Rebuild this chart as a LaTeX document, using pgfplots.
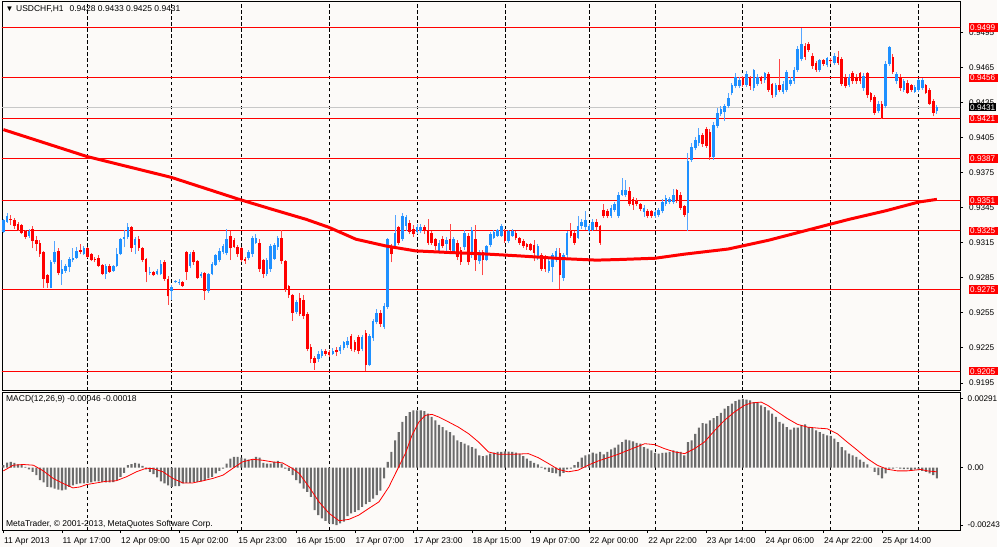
\documentclass[border=0pt]{standalone}
\usepackage{fontspec}
\setmainfont{Liberation Sans}
\usepackage{pgfplots}
\usepackage{pgfplotstable}
\pgfplotsset{compat=1.18}
\definecolor{bgc}{RGB}{252,250,248}
\definecolor{upc}{RGB}{30,144,255}
\definecolor{upw}{RGB}{85,165,255}
\definecolor{dnc}{RGB}{255,0,0}
\definecolor{dnw}{RGB}{255,70,70}
\definecolor{histc}{RGB}{108,108,108}
\definecolor{bidc}{RGB}{200,200,200}
\newcommand{\mtf}{\fontsize{8.5}{10}\selectfont}
\newcommand{\pxf}{\fontsize{8.2}{10}\selectfont}
\setlength{\fboxsep}{1pt}
\newcommand{\rl}[1]{\colorbox{red}{\textcolor{white}{\rule[-0.3pt]{0pt}{6.5pt}#1}\hspace{1.5pt}}}
\newcommand{\bl}[1]{\colorbox{black}{\textcolor{white}{\rule[-0.3pt]{0pt}{6.5pt}#1}}}

\pgfplotstableread{
i o h l c
0 0.9324 0.9335 0.9323 0.9334
1 0.9333 0.9340 0.9332 0.9338
2 0.9335 0.9339 0.9330 0.9334
3 0.9334 0.9336 0.9327 0.9329
4 0.9331 0.9333 0.9325 0.9326
5 0.9330 0.9331 0.9322 0.9323
6 0.9325 0.9326 0.9318 0.9320
7 0.9321 0.9327 0.9319 0.9325
8 0.9327 0.9329 0.9310 0.9316
9 0.9317 0.9321 0.9308 0.9314
10 0.9315 0.9317 0.9303 0.9305
11 0.9307 0.9308 0.9276 0.9284
12 0.9287 0.9288 0.9276 0.9280
13 0.9276 0.9300 0.9276 0.9298
14 0.9298 0.9316 0.9297 0.9307
15 0.9308 0.9310 0.9287 0.9289
16 0.9288 0.9300 0.9279 0.9292
17 0.9291 0.9297 0.9289 0.9295
18 0.9294 0.9303 0.9290 0.9301
19 0.9300 0.9310 0.9298 0.9302
20 0.9302 0.9311 0.9301 0.9308
21 0.9309 0.9314 0.9305 0.9307
22 0.9305 0.9312 0.9304 0.9310
23 0.9310 0.9311 0.9302 0.9303
24 0.9305 0.9306 0.9299 0.9300
25 0.9301 0.9303 0.9298 0.9300
26 0.9302 0.9304 0.9294 0.9295
27 0.9296 0.9297 0.9287 0.9288
28 0.9288 0.9297 0.9284 0.9295
29 0.9295 0.9297 0.9289 0.9290
30 0.9291 0.9296 0.9290 0.9295
31 0.9295 0.9310 0.9294 0.9305
32 0.9305 0.9319 0.9304 0.9318
33 0.9318 0.9326 0.9311 0.9320
34 0.9320 0.9332 0.9318 0.9328
35 0.9328 0.9329 0.9307 0.9310
36 0.9313 0.9320 0.9305 0.9318
37 0.9318 0.9321 0.9308 0.9310
38 0.9310 0.9311 0.9298 0.9300
39 0.9301 0.9302 0.9281 0.9290
40 0.9289 0.9294 0.9287 0.9290
41 0.9290 0.9291 0.9286 0.9287
42 0.9288 0.9292 0.9287 0.9291
43 0.9288 0.9300 0.9287 0.9297
44 0.9298 0.9300 0.9282 0.9284
45 0.9284 0.9286 0.9262 0.9269
46 0.9274 0.9279 0.9266 0.9277
47 0.9281 0.9283 0.9280 0.9282
48 0.9280 0.9284 0.9279 0.9281
49 0.9281 0.9282 0.9277 0.9278
50 0.9307 0.9308 0.9283 0.9290
51 0.9295 0.9307 0.9293 0.9305
52 0.9307 0.9309 0.9296 0.9298
53 0.9299 0.9300 0.9284 0.9285
54 0.9286 0.9290 0.9285 0.9288
55 0.9289 0.9290 0.9266 0.9274
56 0.9274 0.9289 0.9272 0.9288
57 0.9288 0.9298 0.9287 0.9297
58 0.9296 0.9305 0.9295 0.9304
59 0.9300 0.9310 0.9298 0.9308
60 0.9307 0.9314 0.9305 0.9312
61 0.9306 0.9327 0.9304 0.9318
62 0.9321 0.9325 0.9300 0.9310
63 0.9317 0.9319 0.9310 0.9311
64 0.9311 0.9313 0.9303 0.9305
65 0.9310 0.9311 0.9298 0.9300
66 0.9301 0.9303 0.9297 0.9299
67 0.9302 0.9309 0.9300 0.9307
68 0.9305 0.9321 0.9303 0.9319
69 0.9315 0.9322 0.9314 0.9319
70 0.9315 0.9318 0.9290 0.9292
71 0.9300 0.9301 0.9285 0.9288
72 0.9288 0.9302 0.9286 0.9300
73 0.9292 0.9314 0.9290 0.9312
74 0.9301 0.9315 0.9300 0.9313
75 0.9311 0.9321 0.9309 0.9319
76 0.9319 0.9326 0.9297 0.9299
77 0.9299 0.9300 0.9273 0.9275
78 0.9278 0.9279 0.9268 0.9270
79 0.9270 0.9271 0.9248 0.9255
80 0.9256 0.9266 0.9254 0.9264
81 0.9268 0.9272 0.9252 0.9254
82 0.9266 0.9270 0.9250 0.9252
83 0.9254 0.9256 0.9222 0.9224
84 0.9226 0.9228 0.9212 0.9215
85 0.9216 0.9218 0.9206 0.9212
86 0.9215 0.9222 0.9213 0.9220
87 0.9218 0.9224 0.9216 0.9222
88 0.9222 0.9224 0.9218 0.9220
89 0.9221 0.9223 0.9217 0.9219
90 0.9220 0.9225 0.9219 0.9222
91 0.9223 0.9226 0.9218 0.9221
92 0.9222 0.9227 0.9220 0.9226
93 0.9225 0.9231 0.9223 0.9230
94 0.9227 0.9234 0.9225 0.9231
95 0.9235 0.9237 0.9222 0.9224
96 0.9230 0.9232 0.9221 0.9223
97 0.9234 0.9236 0.9220 0.9222
98 0.9224 0.9236 0.9222 0.9234
99 0.9238 0.9240 0.9205 0.9210
100 0.9210 0.9237 0.9209 0.9235
101 0.9233 0.9250 0.9231 0.9248
102 0.9247 0.9258 0.9245 0.9255
103 0.9255 0.9257 0.9243 0.9245
104 0.9243 0.9263 0.9241 0.9261
105 0.9260 0.9319 0.9258 0.9318
106 0.9312 0.9314 0.9298 0.9305
107 0.9312 0.9339 0.9310 0.9323
108 0.9328 0.9329 0.9313 0.9315
109 0.9318 0.9340 0.9316 0.9338
110 0.9329 0.9339 0.9325 0.9337
111 0.9332 0.9334 0.9322 0.9324
112 0.9327 0.9330 0.9320 0.9322
113 0.9324 0.9331 0.9322 0.9328
114 0.9325 0.9331 0.9323 0.9328
115 0.9328 0.9330 0.9322 0.9325
116 0.9326 0.9335 0.9313 0.9315
117 0.9323 0.9325 0.9313 0.9315
118 0.9318 0.9319 0.9309 0.9312
119 0.9308 0.9317 0.9306 0.9315
120 0.9318 0.9321 0.9310 0.9312
121 0.9314 0.9320 0.9306 0.9317
122 0.9318 0.9331 0.9306 0.9309
123 0.9306 0.9320 0.9305 0.9318
124 0.9315 0.9317 0.9300 0.9303
125 0.9309 0.9311 0.9296 0.9298
126 0.9311 0.9326 0.9309 0.9323
127 0.9321 0.9323 0.9296 0.9298
128 0.9304 0.9328 0.9302 0.9326
129 0.9318 0.9330 0.9291 0.9300
130 0.9299 0.9309 0.9297 0.9307
131 0.9307 0.9309 0.9287 0.9300
132 0.9300 0.9313 0.9299 0.9312
133 0.9313 0.9324 0.9311 0.9322
134 0.9319 0.9326 0.9318 0.9324
135 0.9321 0.9327 0.9320 0.9326
136 0.9321 0.9331 0.9320 0.9329
137 0.9325 0.9327 0.9315 0.9316
138 0.9316 0.9326 0.9315 0.9325
139 0.9321 0.9327 0.9320 0.9325
140 0.9323 0.9325 0.9317 0.9319
141 0.9319 0.9320 0.9313 0.9315
142 0.9316 0.9318 0.9310 0.9312
143 0.9314 0.9315 0.9309 0.9311
144 0.9314 0.9315 0.9308 0.9309
145 0.9313 0.9317 0.9299 0.9306
146 0.9302 0.9314 0.9300 0.9312
147 0.9304 0.9306 0.9291 0.9292
148 0.9302 0.9304 0.9290 0.9292
149 0.9291 0.9301 0.9289 0.9299
150 0.9294 0.9306 0.9281 0.9304
151 0.9300 0.9310 0.9298 0.9308
152 0.9306 0.9310 0.9275 0.9287
153 0.9285 0.9306 0.9282 0.9304
154 0.9304 0.9325 0.9302 0.9323
155 0.9325 0.9332 0.9319 0.9321
156 0.9323 0.9325 0.9313 0.9315
157 0.9319 0.9338 0.9318 0.9329
158 0.9329 0.9335 0.9327 0.9333
159 0.9328 0.9342 0.9326 0.9334
160 0.9325 0.9331 0.9323 0.9329
161 0.9326 0.9335 0.9325 0.9333
162 0.9333 0.9335 0.9326 0.9328
163 0.9329 0.9330 0.9313 0.9315
164 0.9343 0.9348 0.9336 0.9338
165 0.9342 0.9344 0.9336 0.9338
166 0.9338 0.9347 0.9336 0.9345
167 0.9343 0.9350 0.9341 0.9348
168 0.9338 0.9358 0.9336 0.9356
169 0.9356 0.9370 0.9355 0.9360
170 0.9356 0.9369 0.9354 0.9360
171 0.9359 0.9363 0.9346 0.9348
172 0.9352 0.9354 0.9343 0.9347
173 0.9351 0.9353 0.9346 0.9348
174 0.9348 0.9349 0.9342 0.9344
175 0.9341 0.9347 0.9337 0.9345
176 0.9342 0.9344 0.9336 0.9338
177 0.9342 0.9343 0.9336 0.9338
178 0.9338 0.9343 0.9336 0.9341
179 0.9339 0.9345 0.9337 0.9343
180 0.9342 0.9352 0.9340 0.9350
181 0.9348 0.9356 0.9346 0.9353
182 0.9350 0.9354 0.9348 0.9352
183 0.9350 0.9361 0.9348 0.9356
184 0.9360 0.9361 0.9349 0.9351
185 0.9356 0.9358 0.9343 0.9345
186 0.9346 0.9347 0.9337 0.9339
187 0.9340 0.9392 0.9325 0.9385
188 0.9386 0.9400 0.9384 0.9397
189 0.9396 0.9405 0.9394 0.9403
190 0.9400 0.9413 0.9398 0.9407
191 0.9407 0.9409 0.9397 0.9399
192 0.9412 0.9414 0.9396 0.9398
193 0.9410 0.9412 0.9386 0.9388
194 0.9388 0.9418 0.9386 0.9416
195 0.9415 0.9430 0.9413 0.9426
196 0.9425 0.9432 0.9423 0.9429
197 0.9427 0.9434 0.9419 0.9432
198 0.9432 0.9443 0.9430 0.9439
199 0.9443 0.9452 0.9441 0.9450
200 0.9449 0.9460 0.9447 0.9457
201 0.9449 0.9457 0.9447 0.9454
202 0.9456 0.9458 0.9448 0.9450
203 0.9450 0.9462 0.9448 0.9459
204 0.9456 0.9458 0.9446 0.9449
205 0.9447 0.9464 0.9445 0.9463
206 0.9451 0.9459 0.9449 0.9457
207 0.9457 0.9458 0.9451 0.9453
208 0.9454 0.9461 0.9452 0.9460
209 0.9459 0.9461 0.9444 0.9446
210 0.9451 0.9452 0.9439 0.9441
211 0.9441 0.9452 0.9440 0.9450
212 0.9450 0.9472 0.9444 0.9446
213 0.9444 0.9453 0.9442 0.9451
214 0.9446 0.9463 0.9444 0.9461
215 0.9451 0.9457 0.9449 0.9454
216 0.9453 0.9465 0.9451 0.9463
217 0.9463 0.9483 0.9461 0.9481
218 0.9472 0.9499 0.9470 0.9485
219 0.9483 0.9486 0.9471 0.9474
220 0.9485 0.9487 0.9478 0.9480
221 0.9475 0.9477 0.9464 0.9466
222 0.9469 0.9470 0.9461 0.9463
223 0.9463 0.9472 0.9461 0.9471
224 0.9471 0.9472 0.9466 0.9468
225 0.9467 0.9474 0.9465 0.9473
226 0.9471 0.9473 0.9468 0.9470
227 0.9469 0.9477 0.9467 0.9475
228 0.9474 0.9479 0.9467 0.9469
229 0.9472 0.9474 0.9449 0.9451
230 0.9457 0.9459 0.9447 0.9449
231 0.9450 0.9459 0.9448 0.9457
232 0.9460 0.9462 0.9451 0.9453
233 0.9457 0.9459 0.9451 0.9453
234 0.9460 0.9461 0.9451 0.9453
235 0.9447 0.9460 0.9445 0.9458
236 0.9460 0.9461 0.9439 0.9441
237 0.9443 0.9444 0.9435 0.9437
238 0.9440 0.9441 0.9424 0.9426
239 0.9428 0.9436 0.9426 0.9434
240 0.9434 0.9436 0.9421 0.9422
241 0.9432 0.9470 0.9430 0.9468
242 0.9468 0.9483 0.9466 0.9482
243 0.9474 0.9476 0.9459 0.9461
244 0.9453 0.9461 0.9451 0.9459
245 0.9457 0.9459 0.9445 0.9447
246 0.9446 0.9455 0.9444 0.9453
247 0.9452 0.9454 0.9442 0.9443
248 0.9450 0.9451 0.9444 0.9446
249 0.9444 0.9450 0.9443 0.9448
250 0.9446 0.9455 0.9444 0.9454
251 0.9447 0.9456 0.9446 0.9454
252 0.9450 0.9451 0.9442 0.9443
253 0.9446 0.9447 0.9433 0.9434
254 0.9436 0.9438 0.9423 0.9426
255 0.9428 0.9433 0.9425 0.9431
}\candles

\pgfplotstableread{
i m
0 0.00010
1 0.00021
2 0.00024
3 0.00020
4 0.00014
5 0.00010
6 0.00003
7 -0.00008
8 -0.00018
9 -0.00032
10 -0.00053
11 -0.00063
12 -0.00082
13 -0.00084
14 -0.00089
15 -0.00093
16 -0.00096
17 -0.00093
18 -0.00082
19 -0.00075
20 -0.00070
21 -0.00067
22 -0.00067
23 -0.00065
24 -0.00063
25 -0.00058
26 -0.00058
27 -0.00060
28 -0.00063
29 -0.00063
30 -0.00062
31 -0.00053
32 -0.00039
33 -0.00022
34 0.00010
35 0.00015
36 0.00020
37 0.00017
38 0.00007
39 -0.00008
40 -0.00018
41 -0.00028
42 -0.00042
43 -0.00058
44 -0.00067
45 -0.00075
46 -0.00082
47 -0.00079
48 -0.00079
49 -0.00067
50 -0.00065
51 -0.00065
52 -0.00060
53 -0.00060
54 -0.00058
55 -0.00053
56 -0.00046
57 -0.00039
58 -0.00025
59 -0.00014
60 -0.00004
61 0.00017
62 0.00038
63 0.00045
64 0.00045
65 0.00042
66 0.00038
67 0.00034
68 0.00031
69 0.00045
70 0.00042
71 0.00020
72 0.00017
73 0.00017
74 0.00024
75 0.00028
76 0.00017
77 -0.00004
78 -0.00014
79 -0.00032
80 -0.00053
81 -0.00067
82 -0.00089
83 -0.00103
84 -0.00124
85 -0.00180
86 -0.00201
87 -0.00215
88 -0.00225
89 -0.00236
90 -0.00239
91 -0.00243
92 -0.00236
93 -0.00229
94 -0.00205
95 -0.00194
96 -0.00187
97 -0.00180
98 -0.00166
99 -0.00155
100 -0.00145
101 -0.00131
102 -0.00117
103 -0.00098
104 -0.00046
105 0.00024
106 0.00066
107 0.00115
108 0.00150
109 0.00193
110 0.00218
111 0.00235
112 0.00242
113 0.00242
114 0.00242
115 0.00239
116 0.00228
117 0.00214
118 0.00200
119 0.00181
120 0.00171
121 0.00157
122 0.00150
123 0.00136
124 0.00115
125 0.00108
126 0.00101
127 0.00094
128 0.00087
129 0.00080
130 0.00052
131 0.00048
132 0.00052
133 0.00059
134 0.00063
135 0.00066
136 0.00066
137 0.00069
138 0.00067
139 0.00066
140 0.00063
141 0.00059
142 0.00048
143 0.00038
144 0.00028
145 0.00020
146 0.00014
147 0.00003
148 -0.00008
149 -0.00018
150 -0.00022
151 -0.00025
152 -0.00037
153 -0.00022
154 -0.00008
155 -0.00004
156 0.00010
157 0.00024
158 0.00042
159 0.00052
160 0.00056
161 0.00063
162 0.00059
163 0.00066
164 0.00056
165 0.00066
166 0.00077
167 0.00084
168 0.00097
169 0.00108
170 0.00118
171 0.00115
172 0.00111
173 0.00104
174 0.00101
175 0.00087
176 0.00080
177 0.00073
178 0.00062
179 0.00059
180 0.00062
181 0.00063
182 0.00066
183 0.00073
184 0.00069
185 0.00066
186 0.00052
187 0.00108
188 0.00115
189 0.00143
190 0.00169
191 0.00188
192 0.00186
193 0.00200
194 0.00209
195 0.00218
196 0.00231
197 0.00249
198 0.00260
199 0.00270
200 0.00281
201 0.00287
202 0.00291
203 0.00287
204 0.00284
205 0.00277
206 0.00273
207 0.00263
208 0.00256
209 0.00242
210 0.00228
211 0.00214
212 0.00193
213 0.00186
214 0.00171
215 0.00160
216 0.00169
217 0.00169
218 0.00179
219 0.00183
220 0.00171
221 0.00167
222 0.00157
223 0.00150
224 0.00143
225 0.00136
226 0.00134
227 0.00122
228 0.00108
229 0.00087
230 0.00073
231 0.00059
232 0.00052
233 0.00045
234 0.00034
235 0.00024
236 0.00014
237 0.00000
238 -0.00018
239 -0.00032
240 -0.00046
241 -0.00025
242 -0.00004
243 -0.00004
244 -0.00001
245 -0.00004
246 -0.00007
247 -0.00007
248 -0.00014
249 -0.00008
250 -0.00011
251 -0.00014
252 -0.00018
253 -0.00025
254 -0.00032
255 -0.00046
}\macd

\begin{document}
\begin{tikzpicture}[x=1pt,y=1pt]
\fill[bgc] (0,0) rectangle (1000,549);
% ---------------- main price window ----------------
\begin{axis}[
  at={(2pt,157.3pt)}, anchor=south west, scale only axis,
  width=961pt, height=390pt,
  xmin=-0.381, xmax=261.33, ymin=0.918842, ymax=0.952118,
  axis line style={black, line width=0.8pt},
  xtick=\empty,
  extra x ticks={23,46,65,89,113,137,160,178,202,226,250},
  extra x tick labels={},
  extra x tick style={grid=major, major tick length=0pt,
     major grid style={black, line width=0.8pt, dash pattern=on 3.5pt off 2.5pt}},
  ytick={0.9195,0.9225,0.9255,0.9285,0.9315,0.9345,0.9375,0.9405,0.9435,0.9465,0.9495},
  yticklabels={0.9195,0.9225,0.9255,0.9285,0.9315,0.9345,0.9375,0.9405,0.9435,0.9465,0.9495},
  ytick pos=right, yticklabel pos=right, tick align=outside,
  major tick length=3pt, tick style={black, line width=0.6pt},
  scaled y ticks=false,
  yticklabel style={font=\pxf, anchor=west, inner sep=0pt, xshift=6pt},
  extra y ticks={0.9499,0.9456,0.9431,0.9421,0.9387,0.9351,0.9325,0.9275,0.9205},
  extra y tick labels={\rl{0.9499},\rl{0.9456},\bl{0.9431},\rl{0.9421},\rl{0.9387},\rl{0.9351},\rl{0.9325},\rl{0.9275},\rl{0.9205}},
  extra y tick style={major tick length=0pt, yticklabel style={xshift=3pt}},
]
% bid line and horizontal levels
\addplot[bidc, line width=1pt] coordinates {(-1,0.9431) (262,0.9431)};
\addplot[red, line width=1pt] coordinates {(-1,0.9499) (262,0.9499)};
\addplot[red, line width=1pt] coordinates {(-1,0.9456) (262,0.9456)};
\addplot[red, line width=1pt] coordinates {(-1,0.9421) (262,0.9421)};
\addplot[red, line width=1pt] coordinates {(-1,0.9387) (262,0.9387)};
\addplot[red, line width=1pt] coordinates {(-1,0.9351) (262,0.9351)};
\addplot[red, line width=1pt] coordinates {(-1,0.9325) (262,0.9325)};
\addplot[red, line width=1pt] coordinates {(-1,0.9275) (262,0.9275)};
\addplot[red, line width=1pt] coordinates {(-1,0.9205) (262,0.9205)};
% wicks
\addplot[upw, line width=1pt, quiver={u=0, v={\thisrow{h}-\thisrow{l}}},
  restrict expr to domain={\thisrow{c}-\thisrow{o}}{0:1}]
  table[x=i, y=l]{\candles};
\addplot[dnw, line width=1pt, quiver={u=0, v={\thisrow{h}-\thisrow{l}}},
  restrict expr to domain={\thisrow{c}-\thisrow{o}}{-1:-0.00001}]
  table[x=i, y=l]{\candles};
% bodies
\addplot[upc, line width=2.6pt, quiver={u=0, v={max(\thisrow{c}-\thisrow{o},0.00008)}},
  restrict expr to domain={\thisrow{c}-\thisrow{o}}{0:1}]
  table[x=i, y=o]{\candles};
\addplot[dnc, line width=2.6pt, quiver={u=0, v={max(\thisrow{o}-\thisrow{c},0.00008)}},
  restrict expr to domain={\thisrow{c}-\thisrow{o}}{-1:-0.00001}]
  table[x=i, y=c]{\candles};
% moving average
\addplot[red, line width=3pt, line join=round] coordinates {
(0,0.94117) (22.8,0.93887) (45.9,0.93708) (64.4,0.93520) (73.4,0.93435)
(82.7,0.93349) (88.9,0.93281) (96.3,0.93179) (104.5,0.93121) (112.6,0.93079)
(122,0.93065) (132,0.93052) (141,0.93036) (152,0.93014) (162,0.93000)
(168,0.93005) (178,0.93016) (186,0.93051) (198,0.93095) (209,0.93170)
(222,0.93276) (231,0.93349) (241,0.93422) (250,0.93497) (255,0.93520)};
\end{axis}
% ---------------- MACD window ----------------
\begin{axis}[
  at={(2pt,17.3pt)}, anchor=south west, scale only axis,
  width=961pt, height=137.7pt,
  xmin=-0.381, xmax=261.33, ymin=-0.002644, ymax=0.003163,
  axis line style={black, line width=0.8pt},
  xtick={0,16,32,48,64,80,96,112,128,144,160,176,192,208,224,240},
  xticklabels={11 Apr 2013,11 Apr 17:00,12 Apr 09:00,15 Apr 02:00,15 Apr 23:00,16 Apr 15:00,17 Apr 07:00,17 Apr 23:00,18 Apr 15:00,19 Apr 07:00,22 Apr 00:00,22 Apr 22:00,23 Apr 14:00,24 Apr 06:00,24 Apr 22:00,25 Apr 14:00},
  xtick pos=bottom, tick align=outside, major tick length=3pt,
  tick style={black, line width=0.6pt},
  xticklabel style={font=\mtf, anchor=north west, inner sep=0pt, xshift=0.5pt, yshift=-4pt},
  extra x ticks={23,46,65,89,113,137,160,178,202,226,250},
  extra x tick labels={},
  extra x tick style={grid=major, major tick length=0pt,
     major grid style={black, line width=0.8pt, dash pattern=on 3.5pt off 2.5pt}},
  ytick={-0.00243,0,0.00291},
  yticklabels={-0.00243,0.00,0.00291},
  ytick pos=right, yticklabel pos=right,
  scaled y ticks=false,
  yticklabel style={font=\pxf, anchor=west, inner sep=0pt, xshift=4.5pt},
]
\addplot[ybar, bar width=2.1pt, fill=histc, draw=none] table[x=i, y=m]{\macd};
\addplot[red, line width=0.8pt] coordinates {
(0,-0.00014) (2.7,0.00010) (5.4,0.00013) (8.2,0.00010) (10.9,-0.00014) (13.6,-0.00046)
(16.3,-0.00067) (19,-0.00086) (20.9,-0.00082) (22.7,-0.00072) (25.4,-0.00065)
(28.1,-0.00058) (30.8,-0.00056) (33.6,-0.00039) (36.3,-0.00018) (39,-0.00003)
(40.8,-0.00004) (43.6,-0.00018) (46.3,-0.00046) (49,-0.00065) (51.7,-0.00065)
(54.5,-0.00056) (57.2,-0.00046) (60,-0.00032) (62.6,-0.00004) (65.3,0.00024)
(68.1,0.00035) (70.8,0.00031) (73.5,0.00024) (76.2,0.00020) (79,-0.00004)
(80.8,-0.00025) (83.5,-0.00082) (86.2,-0.00145) (89,-0.00194) (91.7,-0.00225)
(94.4,-0.00219) (97.1,-0.00201) (99.8,-0.00173) (102.6,-0.00145) (105.3,-0.00082)
(107.1,-0.00025) (108,0.00003) (109.8,0.00059) (111.6,0.00136) (113.5,0.00193)
(115.3,0.00221) (117.1,0.00225) (118.9,0.00214) (121.6,0.00193) (124.3,0.00171)
(127.1,0.00143) (129.8,0.00108) (132.5,0.00066) (135.2,0.00056) (138.9,0.00056)
(143.4,0.00059) (146.1,0.00042) (148.9,0.00017) (151.6,-0.00008) (154.3,-0.00018)
(157,-0.00011) (159.7,0.00010) (162.5,0.00028) (165.2,0.00042) (167.9,0.00056)
(170.6,0.00073) (173.4,0.00090) (175.2,0.00101) (177.9,0.00097) (180.6,0.00080)
(183.4,0.00066) (186.1,0.00059) (188.8,0.00080) (191.5,0.00108) (194.3,0.00157)
(197,0.00200) (199.7,0.00235) (202.4,0.00263) (204.2,0.00273) (207,0.00277)
(208.8,0.00263) (211.5,0.00235) (214.2,0.00207) (216.9,0.00183) (219.7,0.00171)
(222.4,0.00167) (225.1,0.00164) (227.8,0.00143) (230.5,0.00108) (233.3,0.00073)
(236,0.00038) (238.7,0.00010) (241.4,-0.00007) (244.2,-0.00014) (246.9,-0.00014)
(250.6,-0.00008) (252.4,-0.00014) (255,-0.00018)};
\end{axis}
% ---------------- texts ----------------
\node[anchor=west, inner sep=0pt] at (5.5,540) {\fontsize{8}{8}\selectfont ▼};
\node[anchor=west, inner sep=0pt] at (16,540) {\mtf USDCHF,H1\hspace{6pt}0.9428 0.9433 0.9425 0.9431};
\node[anchor=west, inner sep=0pt] at (6,148) {\mtf MACD(12,26,9) -0.00046 -0.00018};
\node[anchor=west, inner sep=0pt] at (6,23.3) {\mtf MetaTrader, © 2001-2013, MetaQuotes Software Corp.};
\end{tikzpicture}
\end{document}
